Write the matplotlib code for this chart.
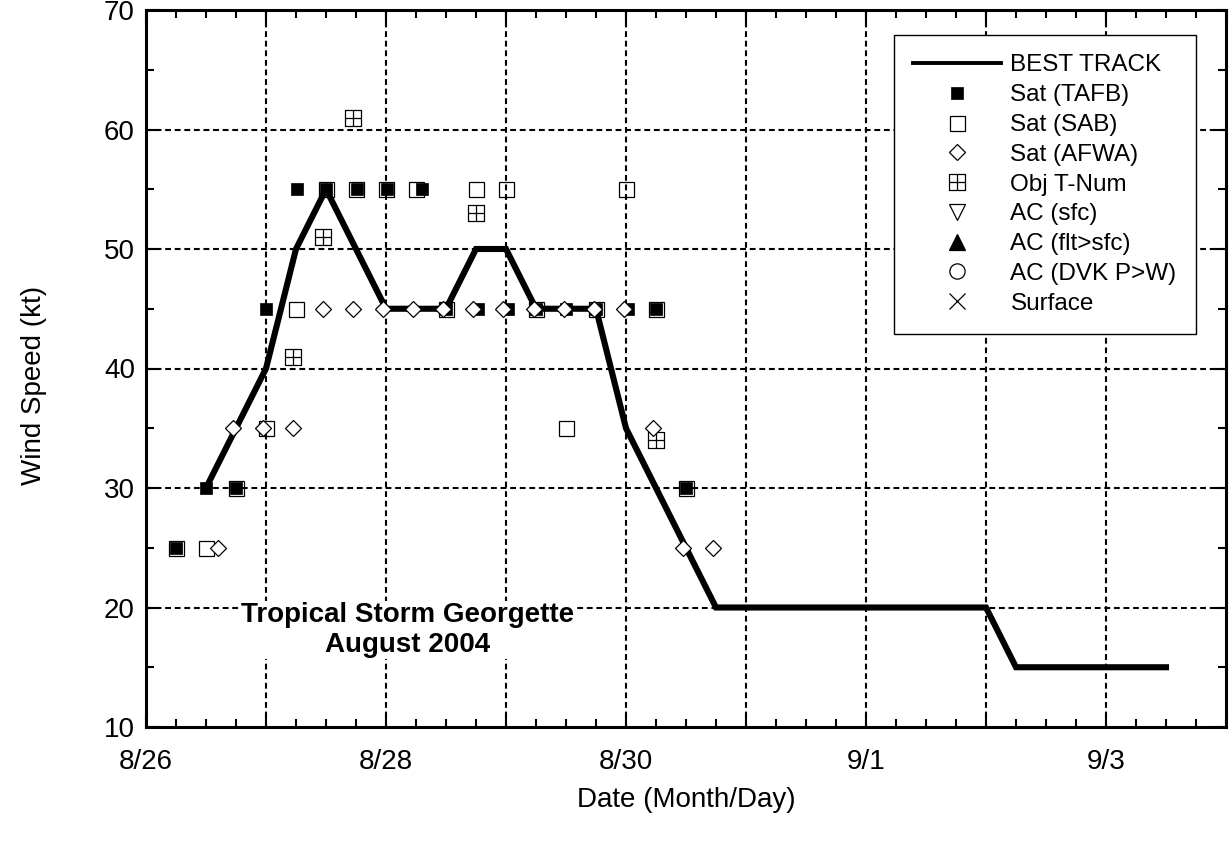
import matplotlib
matplotlib.use("Agg")
import matplotlib.pyplot as plt
from matplotlib.path import Path
from matplotlib.lines import Line2D
from matplotlib.ticker import MultipleLocator, FixedLocator

plt.rcParams['font.family'] = ['Liberation Sans', 'DejaVu Sans']

# x values: days since 8/26 00 UTC
tick_days = [0, 1, 2, 3, 4, 5, 6, 7, 8]
tick_labels = ["8/26", "", "8/28", "", "8/30", "", "9/1", "", "9/3"]
y_ticks = [10, 20, 30, 40, 50, 60, 70]

best_day = [0.5, 0.75, 1.0, 1.25, 1.5, 2.0, 2.25, 2.5, 2.75, 3.0, 3.25, 3.5, 3.75, 4.0, 4.75, 7.0, 7.25, 8.5]
best_kt = [30, 35, 40, 50, 55, 45, 45, 45, 50, 50, 45, 45, 45, 35, 20, 20, 15, 15]

tafb_day = [0.25, 0.5, 0.75, 1.0, 1.26, 1.5, 1.76, 2.01, 2.3, 2.5, 2.77, 3.02, 3.25, 3.5, 3.75, 4.02, 4.25, 4.5]
tafb_kt = [25, 30, 30, 45, 55, 55, 55, 55, 55, 45, 45, 45, 45, 45, 45, 45, 45, 30]

sab_day = [0.25, 0.5, 0.75, 1.0, 1.25, 1.5, 1.75, 2.0, 2.25, 2.5, 2.75, 3.0, 3.25, 3.5, 3.75, 4.0, 4.25, 4.5]
sab_kt = [25, 25, 30, 35, 45, 55, 55, 55, 55, 45, 55, 55, 45, 35, 45, 55, 45, 30]

afwa_day = [0.6, 0.725, 0.975, 1.225, 1.475, 1.725, 1.975, 2.225, 2.475, 2.725, 2.975, 3.233, 3.483, 3.733, 3.983, 4.225, 4.475, 4.725]
afwa_kt = [25, 35, 35, 35, 45, 45, 45, 45, 45, 45, 45, 45, 45, 45, 45, 35, 25, 25]

obj_day = [1.225, 1.475, 1.725, 2.75, 4.25]
obj_kt = [41, 51, 61, 53, 34]

# legend-only series (no observations)
ac_sfc_day, ac_sfc_kt = [], []
ac_flt_day, ac_flt_kt = [], []
ac_dvk_day, ac_dvk_kt = [], []
sfc_day, sfc_kt = [], []

W, H = 1231, 843
fig = plt.figure(figsize=(W / 100, H / 100), dpi=100)
ax = fig.add_axes([146 / W, 1 - 727 / H, 1080 / W, 717 / H])

ax.set_xlim(0, 9)
ax.set_ylim(10, 70)

# grid
for d in tick_days[1:]:
    ax.axvline(d, color='black', lw=1.5, ls=(0, (2.8, 1.8)), zorder=1)
for v in y_ticks[1:-1]:
    ax.axhline(v, color='black', lw=1.5, ls=(0, (2.8, 1.8)), zorder=1)

# obj T-num marker: square with cross
obj_path = Path(
    [(-1, -1), (1, -1), (1, 1), (-1, 1), (-1, -1), (0, -1), (0, 1), (-1, 0), (1, 0)],
    [Path.MOVETO, Path.LINETO, Path.LINETO, Path.LINETO, Path.CLOSEPOLY,
     Path.MOVETO, Path.LINETO, Path.MOVETO, Path.LINETO])

ax.plot(best_day, best_kt, color='black', lw=4.4, solid_joinstyle='miter', zorder=2)
ax.plot(sab_day, sab_kt, ls='none', marker='s', ms=10.8, mfc='none', mec='black', mew=0.9, zorder=3)
ax.plot(tafb_day, tafb_kt, ls='none', marker='s', ms=8.2, mfc='black', mec='black', mew=0.5, zorder=4)
ax.plot(obj_day, obj_kt, ls='none', marker=obj_path, ms=11, mfc='none', mec='black', mew=0.9, zorder=4)
ax.plot(afwa_day, afwa_kt, ls='none', marker='D', ms=8.2, mfc='white', mec='black', mew=0.9, zorder=5)
ax.plot(ac_sfc_day, ac_sfc_kt, ls='none', marker='v', ms=11, mfc='none', mec='black', mew=0.9)
ax.plot(ac_flt_day, ac_flt_kt, ls='none', marker='^', ms=11, mfc='black', mec='black', mew=0.9)
ax.plot(ac_dvk_day, ac_dvk_kt, ls='none', marker='o', ms=11, mfc='none', mec='black', mew=0.9)
ax.plot(sfc_day, sfc_kt, ls='none', marker='x', ms=11, mec='black', mew=0.9)

handles = [
    Line2D([], [], color='black', lw=2.8),
    Line2D([], [], ls='none', marker='s', ms=8.2, mfc='black', mec='black', mew=0.5),
    Line2D([], [], ls='none', marker='s', ms=10.8, mfc='none', mec='black', mew=0.9),
    Line2D([], [], ls='none', marker='D', ms=8.2, mfc='white', mec='black', mew=0.9),
    Line2D([], [], ls='none', marker=obj_path, ms=11, mfc='none', mec='black', mew=0.9),
    Line2D([], [], ls='none', marker='v', ms=11, mfc='none', mec='black', mew=0.9),
    Line2D([], [], ls='none', marker='^', ms=11, mfc='black', mec='black', mew=0.9),
    Line2D([], [], ls='none', marker='o', ms=11, mfc='none', mec='black', mew=0.9),
    Line2D([], [], ls='none', marker='x', ms=11, mec='black', mew=0.9),
]
labels = ["BEST TRACK", "Sat (TAFB)", "Sat (SAB)", "Sat (AFWA)", "Obj T-Num",
          "AC (sfc)", "AC (flt>sfc)", "AC (DVK P>W)", "Surface"]
leg = ax.legend(handles, labels, loc='upper right',
                bbox_to_anchor=((1196 - 146) / 1080, 1 - (35 - 10) / 717),
                borderaxespad=0, fontsize=17.5, handlelength=3.6, handletextpad=0.4,
                labelspacing=0.32, borderpad=0.8, fancybox=False, framealpha=1,
                edgecolor='black')
leg.get_frame().set_linewidth(1.0)
leg.set_zorder(10)

# axes styling
for s in ax.spines.values():
    s.set_linewidth(2.2)
    s.set_zorder(6)
ax.xaxis.set_major_locator(FixedLocator(tick_days))
ax.set_xticklabels(tick_labels)
ax.xaxis.set_minor_locator(MultipleLocator(0.25))
ax.yaxis.set_major_locator(FixedLocator(y_ticks))
ax.yaxis.set_minor_locator(MultipleLocator(5))
ax.tick_params(which='both', direction='in', top=True, right=True, width=1.5, labelsize=20)
ax.tick_params(which='major', length=9)
ax.tick_params(which='minor', length=6)
ax.tick_params(axis='x', pad=16)
ax.tick_params(axis='y', pad=8)

ax.set_xlabel("Date (Month/Day)", fontsize=20)
ax.set_ylabel("Wind Speed (kt)", fontsize=20)
ax.xaxis.set_label_coords(0.5, -(787 - 727) / 717)
ax.yaxis.set_label_coords((47 - 146) / 1080, 1 - (385 - 10) / 717)

ax.text((408 - 146) / 1080, 1 - (630 - 10) / 717, "Tropical Storm Georgette\nAugust 2004",
        transform=ax.transAxes, ha='center', va='center', fontsize=20, fontweight='bold',
        linespacing=1.2, zorder=7,
        bbox=dict(boxstyle='square,pad=0.05', facecolor='white', edgecolor='none'))

fig.savefig("out.png", dpi=100)
